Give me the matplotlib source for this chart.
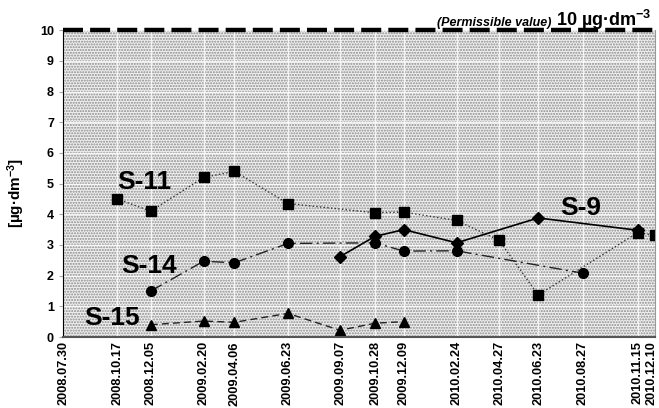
import matplotlib.pyplot as plt
import matplotlib.transforms as mtransforms
import pandas as pd

tick_dates = ["2008.07.30", "2008.10.17", "2008.12.05", "2009.02.20", "2009.04.06",
              "2009.06.23", "2009.09.07", "2009.10.28", "2009.12.09", "2010.02.24",
              "2010.04.27", "2010.06.23", "2010.08.27", "2010.11.15", "2010.12.10"]

s11_dates = ["2008.10.17", "2008.12.05", "2009.02.20", "2009.04.06", "2009.06.23",
             "2009.10.28", "2009.12.09", "2010.02.24", "2010.04.27", "2010.06.23",
             "2010.11.15", "2010.12.10"]
s11_vals = [4.5, 4.1, 5.2, 5.4, 4.35, 4.05, 4.07, 3.8, 3.15, 1.37, 3.4, 3.32]

s9_dates = ["2009.09.07", "2009.10.28", "2009.12.09", "2010.02.24", "2010.06.23", "2010.11.15"]
s9_vals = [2.62, 3.28, 3.5, 3.07, 3.88, 3.48]

s14_dates = ["2008.12.05", "2009.02.20", "2009.04.06", "2009.06.23", "2009.10.28",
             "2009.12.09", "2010.02.24", "2010.08.27"]
s14_vals = [1.5, 2.47, 2.42, 3.05, 3.07, 2.8, 2.81, 2.08]

s15_dates = ["2008.12.05", "2009.02.20", "2009.04.06", "2009.06.23", "2009.09.07",
             "2009.10.28", "2009.12.09"]
s15_vals = [0.4, 0.52, 0.48, 0.77, 0.22, 0.45, 0.5]

limit = 10


def to_dt(lst):
    return pd.to_datetime(lst, format="%Y.%m.%d")


plt.rcParams["font.family"] = ["Liberation Sans", "DejaVu Sans"]
plt.rcParams["font.weight"] = "bold"
plt.rcParams["mathtext.fontset"] = "custom"
plt.rcParams["mathtext.rm"] = "Liberation Sans:bold"
plt.rcParams["mathtext.bf"] = "Liberation Sans:bold"
plt.rcParams["mathtext.it"] = "Liberation Sans:bold:italic"

fig = plt.figure(figsize=(6.59, 4.08), dpi=100)
ax = fig.add_axes([0.0956, 0.174, 0.898, 0.752])

ax.set_facecolor("#f0f0f0")
ax.patch.set_hatch("......")
ax.patch.set_edgecolor("#8a8a8a")
ax.patch.set_linewidth(0)

ax.grid(True, color="#ffffff", linewidth=1.0, alpha=0.8)
ax.set_axisbelow(True)

ax.plot(to_dt(s11_dates), s11_vals, color="#333333", linestyle=":", linewidth=1.0,
        marker="s", markersize=7, markerfacecolor="black", markeredgecolor="black")
ax.plot(to_dt(s9_dates), s9_vals, color="black", linestyle="-", linewidth=1.2,
        marker="D", markersize=6, markerfacecolor="black", markeredgecolor="black")
ax.plot(to_dt(s14_dates), s14_vals, color="#222222", linewidth=1.0,
        linestyle=(0, (9, 3, 1.5, 3)),
        marker="o", markersize=7, markerfacecolor="black", markeredgecolor="black")
ax.plot(to_dt(s15_dates), s15_vals, color="#222222", linewidth=1.0,
        linestyle=(0, (5, 3)),
        marker="^", markersize=7, markerfacecolor="black", markeredgecolor="black")

ax.axhline(limit, color="black", linewidth=3.2, linestyle=(0, (4.5, 1.6)), clip_on=False)

ax.set_xlim(to_dt(["2008.07.30"])[0], to_dt(["2010.12.10"])[0])
ax.set_ylim(0, 10)
ax.set_yticks(range(0, 11))
ax.set_xticks(to_dt(tick_dates))
ax.set_xticklabels(tick_dates, rotation=90, fontsize=9.2, fontweight="bold")
ax.tick_params(axis="y", labelsize=9, length=3, color="#aaaaaa")
ax.tick_params(axis="x", length=0, pad=3)
for lb in ax.get_yticklabels():
    lb.set_fontweight("bold")

# last date label sits at the right edge, nudge it in a bit
last = ax.get_xticklabels()[-1]
last.set_transform(last.get_transform() +
                   mtransforms.ScaledTranslation(-3 / 100, 0, fig.dpi_scale_trans))

ax.set_ylabel("[µg·dm$^{-3}$]", fontsize=11, fontweight="bold")
ax.yaxis.set_label_coords(-0.061, 0.469)

ax.spines["top"].set_visible(False)
ax.spines["right"].set_color("#999999")
ax.spines["left"].set_color("black")
ax.spines["bottom"].set_color("#555555")
ax.spines["bottom"].set_linewidth(1.5)

ax.text(to_dt(["2008.11.26"])[0], 5.05, "S-11", fontsize=19, fontweight="bold", va="center", ha="center")
ax.text(to_dt(["2008.12.02"])[0], 2.3, "S-14", fontsize=19, fontweight="bold", va="center", ha="center")
ax.text(to_dt(["2008.10.09"])[0], 0.62, "S-15", fontsize=19, fontweight="bold", va="center", ha="center")
ax.text(to_dt(["2010.08.24"])[0], 4.2, "S-9", fontsize=19, fontweight="bold", va="center", ha="center")

t_unit = ax.text(0.995, 1.013, "10 µg·dm$^{-3}$", transform=ax.transAxes, fontsize=13,
                 fontweight="bold", ha="right", va="baseline")
fig.canvas.draw()
bb = t_unit.get_window_extent()
x_left = ax.transAxes.inverted().transform((bb.x0 - 5, 0))[0]
ax.text(x_left, 1.013, "(Permissible value)", transform=ax.transAxes, fontsize=9,
        fontstyle="italic", fontweight="bold", ha="right", va="baseline")

fig.savefig("out.png", dpi=100)
